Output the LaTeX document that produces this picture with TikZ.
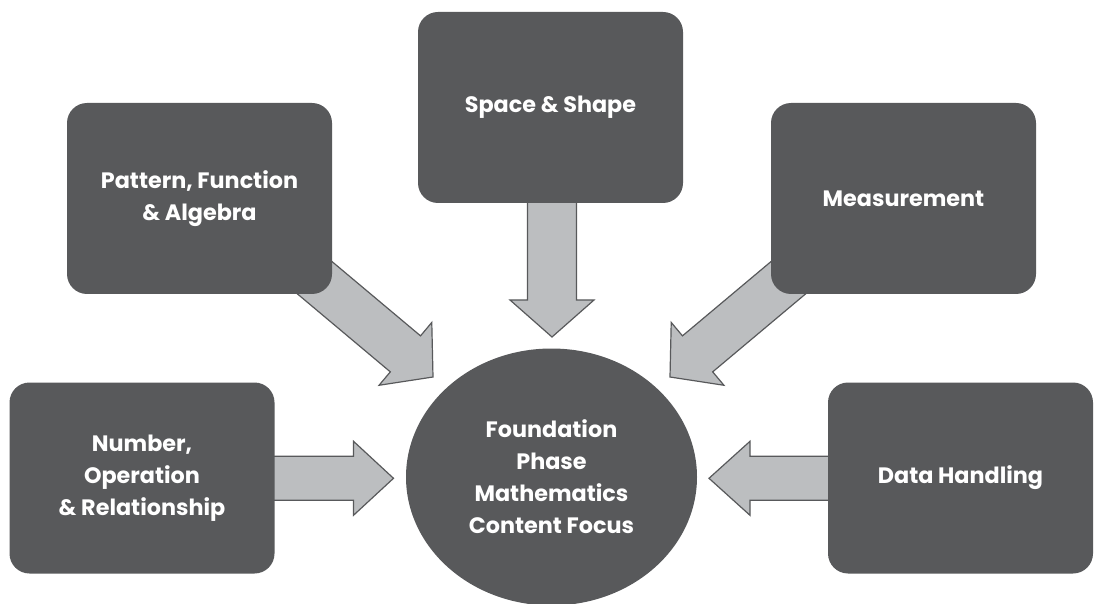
\documentclass[tikz,border=0pt]{standalone}
\usepackage{fontspec}
\setmainfont{Poppins}
\usetikzlibrary{shapes.geometric,backgrounds}
\definecolor{boxgray}{HTML}{58595B}
\definecolor{arrowgray}{HTML}{BCBEC0}
\tikzset{
  topicbox/.style={fill=boxgray, rounded corners=20pt, minimum width=265pt, minimum height=191pt,
    text=white, font=\bfseries\fontsize{22.3}{32}\selectfont, align=center, inner sep=0pt},
  focusnode/.style={ellipse, fill=boxgray, minimum width=291pt, minimum height=257pt,
    text=white, font=\bfseries\fontsize{22.3}{32}\selectfont, align=center, inner sep=0pt},
  blockarrowstyle/.style={fill=arrowgray, draw=boxgray, line width=1.2pt, line join=miter}
}
\newcommand{\blockarr}[6]{%
  \begin{scope}[shift={(#1)}, rotate=#2]
    \draw[blockarrowstyle] (0,0) -- (-#4,#5) -- (-#4,#6) -- (-#3,#6) -- (-#3,-#6)
      -- (-#4,-#6) -- (-#4,-#5) -- cycle;
  \end{scope}}
\begin{document}
\begin{tikzpicture}[x=1pt,y=-1pt]
\useasboundingbox (0,0) rectangle (1112,604);
\node[topicbox] (pat) at (199.5,198.5) {Pattern, Function\\\& Algebra};
\node[topicbox] (spc) at (550.5,107.5) {Space \& Shape};
\node[topicbox] (mea) at (903.5,198.5) {Measurement};
\node[topicbox] (num) at (142,478) {Number,\\Operation\\\& Relationship};
\node[topicbox] (dat) at (960.5,478) {Data Handling};
\node[focusnode] (foc) at (551.5,477) {Foundation\\Phase\\Mathematics\\Content Focus};
\coordinate (tpat) at (433,377);
\coordinate (tspc) at (552,337);
\coordinate (tmea) at (670,377);
\coordinate (tnum) at (393.5,478.3);
\coordinate (tdat) at (709,478.3);
\begin{pgfonlayer}{background}
  \blockarr{tpat}{-40}{190}{36}{41}{23.5}
  \blockarr{tspc}{-90}{160}{37}{42}{24.5}
  \blockarr{tmea}{-140}{190}{36}{41}{23.5}
  \blockarr{tnum}{0}{140}{40}{37}{22}
  \blockarr{tdat}{180}{140}{41}{37}{22}
\end{pgfonlayer}
\end{tikzpicture}
\end{document}
